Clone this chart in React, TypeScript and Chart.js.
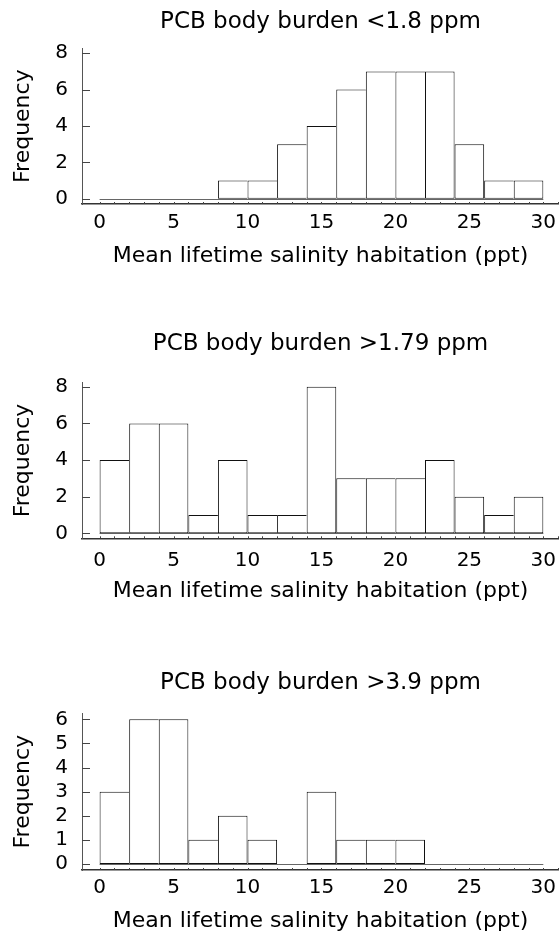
import React, { useEffect, useRef } from "react";
import { Chart, registerables } from "chart.js";

Chart.register(...registerables);

// ---- data ----
const binCenters = [1, 3, 5, 7, 9, 11, 13, 15, 17, 19, 21, 23, 25, 27, 29];
const lowBurdenCounts = [0, 0, 0, 0, 1, 1, 3, 4, 6, 7, 7, 7, 3, 1, 1];
const midBurdenCounts = [4, 6, 6, 1, 4, 1, 1, 8, 3, 3, 3, 4, 2, 1, 2];
const highBurdenCounts = [3, 6, 6, 1, 2, 1, 0, 3, 1, 1, 1, 0, 0, 0, 0];
const xTickValues = [0, 5, 10, 15, 20, 25, 30];
const yTicksEight = [0, 2, 4, 6, 8];
const yTicksSix = [0, 1, 2, 3, 4, 5, 6];
const panelTitles = [
  "PCB body burden <1.8 ppm",
  "PCB body burden >1.79 ppm",
  "PCB body burden >3.9 ppm",
];
const xAxisTitle = "Mean lifetime salinity habitation (ppt)";
const yAxisTitle = "Frequency";

const FONT = "'DejaVu Sans', 'Liberation Sans', sans-serif";

type Panel = {
  title: string;
  counts: number[];
  yTicks: number[];
  yMin: number;
  yMax: number;
  top: number;
  height: number;
  titlePadTop: number;
  titlePadBottom: number;
  xHeight: number;
  xLabelPad: number;
};

const panels: Panel[] = [
  {
    title: panelTitles[0],
    counts: lowBurdenCounts,
    yTicks: yTicksEight,
    yMin: -0.29,
    yMax: 8.27,
    top: 0,
    height: 269,
    titlePadTop: 8,
    titlePadBottom: 12.7,
    xHeight: 65,
    xLabelPad: 7,
  },
  {
    title: panelTitles[1],
    counts: midBurdenCounts,
    yTicks: yTicksEight,
    yMin: -0.27,
    yMax: 8.22,
    top: 300,
    height: 304,
    titlePadTop: 30,
    titlePadBottom: 25.1,
    xHeight: 65.7,
    xLabelPad: 10,
  },
  {
    title: panelTitles[2],
    counts: highBurdenCounts,
    yTicks: yTicksSix,
    yMin: -0.25,
    yMax: 6.25,
    top: 620,
    height: 314,
    titlePadTop: 49,
    titlePadBottom: 16.7,
    xHeight: 64,
    xLabelPad: 6,
  },
];

const decorations = {
  id: "decorations",
  beforeDatasetsDraw(chart: any) {
    const { ctx, scales } = chart;
    const x = scales.x;
    const y = scales.y;
    ctx.save();
    ctx.strokeStyle = "#666";
    ctx.lineWidth = 1;
    const py = Math.round(y.getPixelForValue(0)) + 0.5;
    ctx.beginPath();
    ctx.moveTo(x.getPixelForValue(0), py);
    ctx.lineTo(x.getPixelForValue(30), py);
    ctx.stroke();
    ctx.restore();
  },
  afterDatasetsDraw(chart: any) {
    const { ctx, chartArea, scales } = chart;
    const x = scales.x;
    const y = scales.y;
    ctx.save();
    ctx.strokeStyle = "#444";
    ctx.lineWidth = 1;
    // inward y ticks
    y.ticks.forEach((t: any) => {
      const py = Math.round(y.getPixelForValue(t.value)) + 0.5;
      ctx.beginPath();
      ctx.moveTo(chartArea.left, py);
      ctx.lineTo(chartArea.left + 8, py);
      ctx.stroke();
    });
    // small minor ticks on x axis
    for (let v = 0; v <= 31; v++) {
      const px = Math.round(x.getPixelForValue(v)) + 0.5;
      ctx.beginPath();
      ctx.moveTo(px, chartArea.bottom);
      ctx.lineTo(px, chartArea.bottom - 2);
      ctx.stroke();
    }
    ctx.restore();
  },
};

function HistogramPanel({ panel }: { panel: Panel }) {
  const ref = useRef<HTMLCanvasElement | null>(null);
  useEffect(() => {
    if (!ref.current) return;
    const counts = panel.counts;
    const chart = new Chart(ref.current, {
      type: "bar",
      data: {
        datasets: [
          {
            data: binCenters.map((c, i) => ({ x: c, y: counts[i] })),
            backgroundColor: "#ffffff",
            borderColor: "#111111",
            borderSkipped: false,
            inflateAmount: 0,
            borderWidth: (ctx: any) => {
              const i = ctx.dataIndex;
              const next = i + 1 < counts.length ? counts[i + 1] : 0;
              return { top: 1, bottom: 1, left: 1, right: next < counts[i] ? 1 : 0 };
            },
            barPercentage: 1,
            categoryPercentage: 1,
          } as any,
        ],
      },
      options: {
        animation: false,
        responsive: true,
        maintainAspectRatio: false,
        layout: { padding: 0 },
        plugins: {
          legend: { display: false },
          tooltip: { enabled: false },
          title: {
            display: true,
            text: panel.title,
            fullSize: false,
            color: "#000",
            font: { family: FONT, size: 23, weight: "normal" as any },
            padding: { top: panel.titlePadTop, bottom: panel.titlePadBottom },
          },
        },
        scales: {
          x: {
            type: "linear",
            offset: false,
            min: -1.19,
            max: 31.06,
            afterBuildTicks: (scale: any) => {
              scale.ticks = xTickValues.map((v) => ({ value: v }));
            },
            afterFit: (scale: any) => {
              scale.height = panel.xHeight;
            },
            grid: { display: false, drawTicks: true, tickLength: panel.xLabelPad, offset: false },
            border: { display: true, color: "#333", width: 1.5 },
            ticks: {
              color: "#000",
              font: { family: FONT, size: 20 },
              padding: 0,
              maxRotation: 0,
              autoSkip: false,
            },
            title: {
              display: true,
              text: xAxisTitle,
              color: "#000",
              font: { family: FONT, size: 22 },
              padding: { top: 0, bottom: 0 },
            },
          },
          y: {
            type: "linear",
            min: panel.yMin,
            max: panel.yMax,
            afterBuildTicks: (scale: any) => {
              scale.ticks = panel.yTicks.map((v) => ({ value: v }));
            },
            afterFit: (scale: any) => {
              scale.width = 82;
            },
            grid: { display: false, drawTicks: true, tickLength: 14 },
            border: { display: true, color: "#555", width: 1 },
            ticks: {
              color: "#000",
              font: { family: FONT, size: 20 },
              padding: 0,
              autoSkip: false,
            },
            title: {
              display: true,
              text: yAxisTitle,
              color: "#000",
              font: { family: FONT, size: 22 },
              padding: { top: 10, bottom: 0 },
            },
          },
        },
      },
      plugins: [decorations],
    });
    return () => chart.destroy();
  }, [panel]);

  return (
    <div
      style={{
        position: "absolute",
        left: 0,
        top: panel.top,
        width: 559,
        height: panel.height,
      }}
    >
      <canvas ref={ref} />
    </div>
  );
}

export default function App() {
  return (
    <div style={{ position: "absolute", left: 0, top: 0, width: 559, height: 934, background: "#fff" }}>
      {panels.map((p, i) => (
        <HistogramPanel key={i} panel={p} />
      ))}
    </div>
  );
}
